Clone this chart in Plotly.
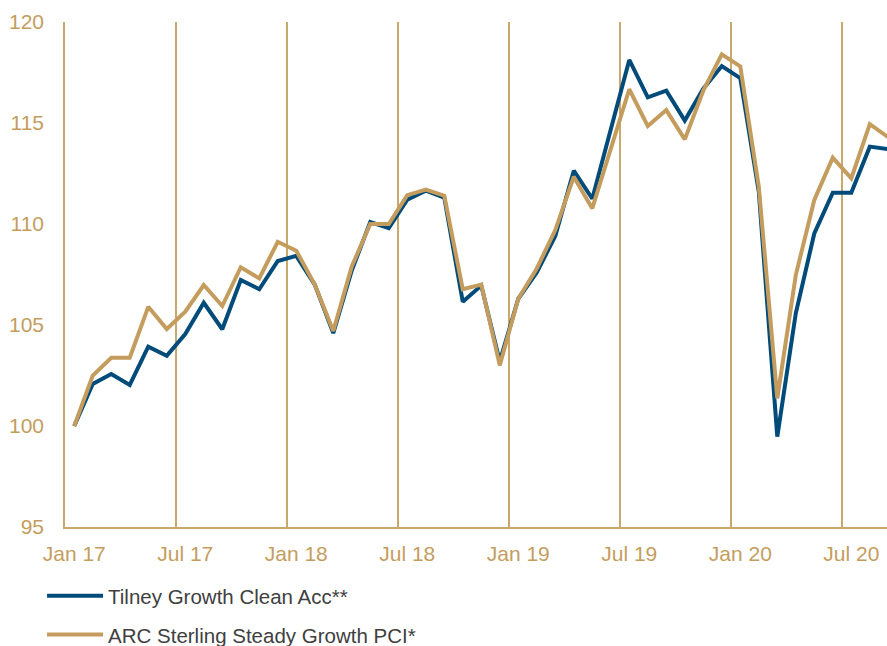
import plotly.graph_objects as go

months = [f"{m} {y}" for y in (17, 18, 19, 20) for m in
          ["Jan", "Feb", "Mar", "Apr", "May", "Jun", "Jul", "Aug", "Sep", "Oct", "Nov", "Dec"]][:45]
tick_labels = ["Jan 17", "Jul 17", "Jan 18", "Jul 18", "Jan 19", "Jul 19", "Jan 20", "Jul 20"]

tilney = [100, 102.08, 102.57, 102.03, 103.93, 103.48, 104.55, 106.1, 104.79, 107.23,
          106.77, 108.17, 108.42, 107.0, 104.6, 107.7, 110.1, 109.8, 111.2, 111.65,
          111.3, 106.15, 106.95, 103.2, 106.3, 107.6, 109.4, 112.64, 111.25, 114.7,
          118.12, 116.27, 116.6, 115.12, 116.7, 117.82, 117.22, 111.6, 99.47, 105.58,
          109.53, 111.55, 111.55, 113.83, 113.7]
arc = [100, 102.5, 103.38, 103.38, 105.9, 104.8, 105.66, 106.98, 105.94, 107.86,
       107.31, 109.12, 108.68, 107.0, 104.7, 107.9, 110.0, 110.0, 111.43, 111.7,
       111.4, 106.77, 107.0, 103.0, 106.3, 107.8, 109.7, 112.34, 110.77, 113.73,
       116.67, 114.85, 115.64, 114.19, 116.6, 118.4, 117.8, 111.85, 101.37, 107.47,
       111.19, 113.28, 112.26, 114.94, 114.29]

x = list(range(len(months)))
tick_pos = [months.index(t) for t in tick_labels]

NAVY = "#004B7A"
GOLD = "#C49D5E"
AXIS = "#C9A86E"
FONT = "Liberation Sans"

fig = go.Figure()
fig.add_trace(go.Scatter(x=x, y=tilney, mode="lines", name="Tilney Growth Clean Acc**",
                         line=dict(color=NAVY, width=4), legendgroup="a"))
fig.add_trace(go.Scatter(x=x, y=arc, mode="lines", name="ARC Sterling Steady Growth PCI*",
                         line=dict(color=GOLD, width=4), legendgroup="b"))

fig.update_layout(
    width=887, height=646,
    margin=dict(l=65, r=0, t=22, b=119, autoexpand=False),
    paper_bgcolor="white", plot_bgcolor="white",
    font=dict(family=FONT, size=20, color=GOLD),
    showlegend=True,
    legend=dict(xref="container", yref="container", x=0.0474, y=0.1083,
                xanchor="left", yanchor="top", traceorder="grouped",
                tracegroupgap=9, itemwidth=56,
                font=dict(family=FONT, size=20.5, color="#404040"),
                bgcolor="rgba(0,0,0,0)"),
    xaxis=dict(range=[-0.5, 43.93], tickmode="array", tickvals=tick_pos,
               ticktext=tick_labels, showgrid=False, zeroline=False,
               showline=True, linecolor=AXIS, linewidth=1.5, ticks="",
               ticklabelstandoff=7,
               tickfont=dict(family=FONT, size=21, color=GOLD),
               minor=dict(tickmode="linear", tick0=-0.5, dtick=6, showgrid=True,
                          gridcolor=AXIS, gridwidth=1.5, ticks="")),
    yaxis=dict(range=[95, 120], tickmode="linear", tick0=95, dtick=5,
               showgrid=False, zeroline=False, showline=True, linecolor=AXIS,
               linewidth=1.5, ticks="", ticklabelstandoff=15,
               tickfont=dict(family=FONT, size=21, color=GOLD)),
)

fig.write_html("out.html", config={"displayModeBar": False},
               post_script="document.body.style.margin='0';")
